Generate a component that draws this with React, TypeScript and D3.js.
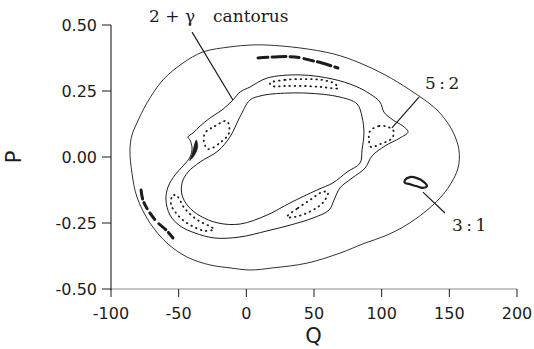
import React from "react";
import * as d3 from "d3";

const WIDTH = 534;
const HEIGHT = 349;

type Pt = [number, number];

// axis ticks
const qTicks = [-100, -50, 0, 50, 100, 150, 200];
const pTicks = [-0.5, -0.25, 0, 0.25, 0.5];

// outermost invariant torus
const outerTorus: Pt[] = [
  [2.7, 0.424], [15.3, 0.424], [39.7, 0.413], [64.8, 0.39], [84.0, 0.356],
  [102.5, 0.311], [120.9, 0.254], [140.9, 0.178], [152.0, 0.102], [157.1, 0.027],
  [156.4, -0.042], [150.5, -0.106], [143.1, -0.155], [132.0, -0.208], [117.2, -0.261],
  [102.5, -0.299], [87.7, -0.326], [69.2, -0.364], [44.8, -0.402], [19.7, -0.42],
  [2.7, -0.428], [-12.1, -0.42], [-26.8, -0.409], [-43.8, -0.379], [-58.6, -0.326],
  [-71.2, -0.25], [-80.8, -0.152], [-84.5, -0.061], [-86.0, 0.027], [-84.5, 0.083],
  [-80.8, 0.129], [-73.4, 0.205], [-61.6, 0.292], [-46.8, 0.356], [-32.0, 0.398],
  [-12.1, 0.417],
];

// 2 + gamma cantorus boundary
const cantorusOrbit: Pt[] = [
  [-9.9, 0.216], [-4.7, 0.246], [2.7, 0.265], [15.3, 0.299], [39.7, 0.311],
  [64.0, 0.295], [80.3, 0.269], [91.4, 0.239], [98.8, 0.208], [101.7, 0.17],
  [108.4, 0.14], [115.8, 0.117], [119.5, 0.095], [113.5, 0.072], [102.5, 0.042],
  [92.9, 0.004], [87.7, -0.042], [78.1, -0.08], [69.2, -0.117], [64.8, -0.163],
  [61.1, -0.201], [49.3, -0.231], [32.3, -0.258], [15.3, -0.28], [-4.7, -0.303],
  [-23.2, -0.307], [-37.9, -0.288], [-49.0, -0.261], [-56.4, -0.22], [-59.4, -0.163],
  [-57.9, -0.114], [-52.7, -0.068], [-46.8, -0.034], [-41.6, 0], [-40.1, 0.034],
  [-41.6, 0.064], [-43.1, 0.076], [-39.4, 0.091], [-34.2, 0.117], [-26.8, 0.148],
  [-18.0, 0.178],
];

// innermost plotted torus
const innerTorus: Pt[] = [
  [2.7, 0.216], [10.1, 0.231], [19.7, 0.239], [44.8, 0.242], [69.2, 0.227],
  [81.8, 0.201], [85.5, 0.152], [86.9, 0.091], [85.5, 0.027], [84.0, -0.023],
  [74.4, -0.057], [64.0, -0.098], [52.2, -0.125], [32.3, -0.174], [15.3, -0.22],
  [-4.7, -0.254], [-20.9, -0.25], [-34.2, -0.223], [-43.1, -0.186], [-47.5, -0.144],
  [-47.5, -0.098], [-43.1, -0.057], [-34.2, -0.019], [-20.9, 0.023], [-12.1, 0.076],
  [-4.7, 0.152],
];

// 5:2 island chain
const island52A: Pt[] = [
  [-30.5, 0.091], [-23.2, 0.117], [-14.3, 0.136], [-12.8, 0.091], [-18.7, 0.057],
  [-28.3, 0.03], [-31.3, 0.057],
];
const island52B: Pt[] = [
  [17.5, 0.28], [28.6, 0.292], [43.3, 0.295], [55.9, 0.292], [65.5, 0.277],
  [67.7, 0.261], [55.9, 0.265], [43.3, 0.269], [28.6, 0.269], [19.0, 0.269],
];
const island52C: Pt[] = [
  [91.4, 0.098], [98.0, 0.117], [104.7, 0.114], [109.1, 0.095], [106.9, 0.068],
  [98.8, 0.049], [92.1, 0.038], [90.6, 0.064],
];
const island52D: Pt[] = [
  [30.0, -0.227], [38.2, -0.193], [47.0, -0.163], [55.9, -0.133], [60.3, -0.133],
  [58.1, -0.163], [53.0, -0.189], [44.8, -0.212], [36.0, -0.227],
];
const island52E: Pt[] = [
  [-54.2, -0.144], [-50.5, -0.152], [-46.8, -0.186], [-41.6, -0.216], [-35.0, -0.242],
  [-27.6, -0.261], [-23.9, -0.273], [-30.5, -0.28], [-38.7, -0.265], [-46.1, -0.242],
  [-52.0, -0.212], [-55.7, -0.178],
];

// 3:1 island chain
const island31Loop: Pt[] = [
  [117.2, -0.087], [120.9, -0.076], [126.1, -0.08], [131.3, -0.095], [133.5, -0.11],
  [130.5, -0.117], [125.4, -0.11], [120.2, -0.102], [117.2, -0.098],
];
const island31Top: Pt[] = [
  [8.6, 0.375], [21.2, 0.379], [36.0, 0.379], [47.0, 0.367], [55.9, 0.356], [67.7, 0.337],
];
const island31Left: Pt[] = [
  [-77.8, -0.125], [-76.4, -0.163], [-72.7, -0.201], [-66.0, -0.246], [-58.6, -0.28],
  [-54.2, -0.307],
];

// dense sliver of the cantorus on its left edge
const cantorusSliver: Pt[] = [
  [-37.0, 0.064], [-35.9, 0.04], [-38.2, 0.008], [-41.8, -0.013], [-40.2, 0.01], [-38.9, 0.036],
];

// annotation labels with their leader lines
const annotationText = ["2 + \u03b3", "cantorus", "5:2", "3:1"];
const annotationAt: Pt[] = [[-71.9, 0.511], [-24.6, 0.511], [132.0, 0.258], [152.0, -0.28]];
const leaderFrom: Pt[] = [[-40.1, 0.473], [127.6, 0.227], [130.5, -0.133]];
const leaderTo: Pt[] = [[-9.9, 0.216], [107.6, 0.11], [146.8, -0.212]];

const x = d3.scaleLinear().domain([-100, 200]).range([111, 517]);
const y = d3.scaleLinear().domain([-0.5, 0.5]).range([289, 25]);

const closedSmooth = d3
  .line<Pt>()
  .x((d) => x(d[0]))
  .y((d) => y(d[1]))
  .curve(d3.curveCatmullRomClosed.alpha(0.5));

const openSmooth = d3
  .line<Pt>()
  .x((d) => x(d[0]))
  .y((d) => y(d[1]))
  .curve(d3.curveCatmullRom.alpha(0.5));

const fmtP = (v: number) => (v < 0 ? "-" : "") + Math.abs(v).toFixed(2);

const sans = "'DejaVu Sans', sans-serif";
const serif = "'DejaVu Serif', serif";
const ink = "#1c1c1c";

export default function App() {
  const dotted = [island52A, island52B, island52C, island52D, island52E];
  return (
    <svg
      width={WIDTH}
      height={HEIGHT}
      style={{ position: "absolute", left: 0, top: 0, background: "#fff" }}
    >
      {/* axes */}
      <line x1={x(-100)} x2={x(200)} y1={y(-0.5)} y2={y(-0.5)} stroke="#8a8a8a" strokeWidth={1} />
      <line x1={x(-100)} x2={x(-100)} y1={y(0.5)} y2={y(-0.5) + 1} stroke={ink} strokeWidth={1.1} />
      {qTicks.map((t) => (
        <g key={"q" + t}>
          <line x1={x(t)} x2={x(t)} y1={y(-0.5)} y2={y(-0.5) + 8} stroke={ink} strokeWidth={1} />
          <text x={x(t)} y={319} textAnchor="middle" fontFamily={sans} fontSize={16} fill={ink}>
            {t}
          </text>
        </g>
      ))}
      {pTicks.map((t) => (
        <g key={"p" + t}>
          <line x1={x(-100) - 9} x2={x(-100)} y1={y(t)} y2={y(t)} stroke={ink} strokeWidth={1} />
          <text x={97} y={y(t) + 6} textAnchor="end" fontFamily={sans} fontSize={16} fill={ink}>
            {fmtP(t)}
          </text>
        </g>
      ))}
      <text x={313.5} y={343} textAnchor="middle" fontFamily={sans} fontSize={21} fill={ink}>
        Q
      </text>
      <text
        transform={`translate(21, ${y(0)}) rotate(-90)`}
        textAnchor="middle"
        fontFamily={sans}
        fontSize={21}
        fill={ink}
      >
        P
      </text>

      {/* invariant curves */}
      <path d={closedSmooth(outerTorus) ?? ""} fill="none" stroke={ink} strokeWidth={0.9} />
      <path d={closedSmooth(cantorusOrbit) ?? ""} fill="none" stroke={ink} strokeWidth={1} />
      <path d={closedSmooth(innerTorus) ?? ""} fill="none" stroke={ink} strokeWidth={1} />
      <path d={closedSmooth(cantorusSliver) ?? ""} fill={ink} stroke={ink} strokeWidth={0.6} />

      {/* 5:2 islands */}
      {dotted.map((isl, i) => (
        <path
          key={"i52" + i}
          d={closedSmooth(isl) ?? ""}
          fill="none"
          stroke={ink}
          strokeWidth={1.8}
          strokeLinecap="round"
          strokeDasharray="0.6 4.6"
        />
      ))}

      {/* 3:1 islands */}
      <path d={closedSmooth(island31Loop) ?? ""} fill="none" stroke={ink} strokeWidth={2.2} />
      <path
        d={openSmooth(island31Top) ?? ""}
        fill="none"
        stroke={ink}
        strokeWidth={3}
        strokeDasharray="10 4 14 4 9 5"
        strokeLinecap="round"
      />
      <path
        d={openSmooth(island31Left) ?? ""}
        fill="none"
        stroke={ink}
        strokeWidth={3}
        strokeDasharray="9 4 7 5 8 6"
        strokeLinecap="round"
      />

      {/* leaders and labels */}
      {leaderFrom.map((f, i) => (
        <line
          key={"l" + i}
          x1={x(f[0])}
          y1={y(f[1])}
          x2={x(leaderTo[i][0])}
          y2={y(leaderTo[i][1])}
          stroke={ink}
          strokeWidth={1.2}
        />
      ))}
      {annotationText.map((t, i) => (
        <text
          key={"a" + i}
          x={x(annotationAt[i][0])}
          y={y(annotationAt[i][1])}
          fontFamily={serif}
          fontSize={17}
          letterSpacing={t.includes(":") ? 3.5 : 0}
          fill={ink}
        >
          {t}
        </text>
      ))}
    </svg>
  );
}
